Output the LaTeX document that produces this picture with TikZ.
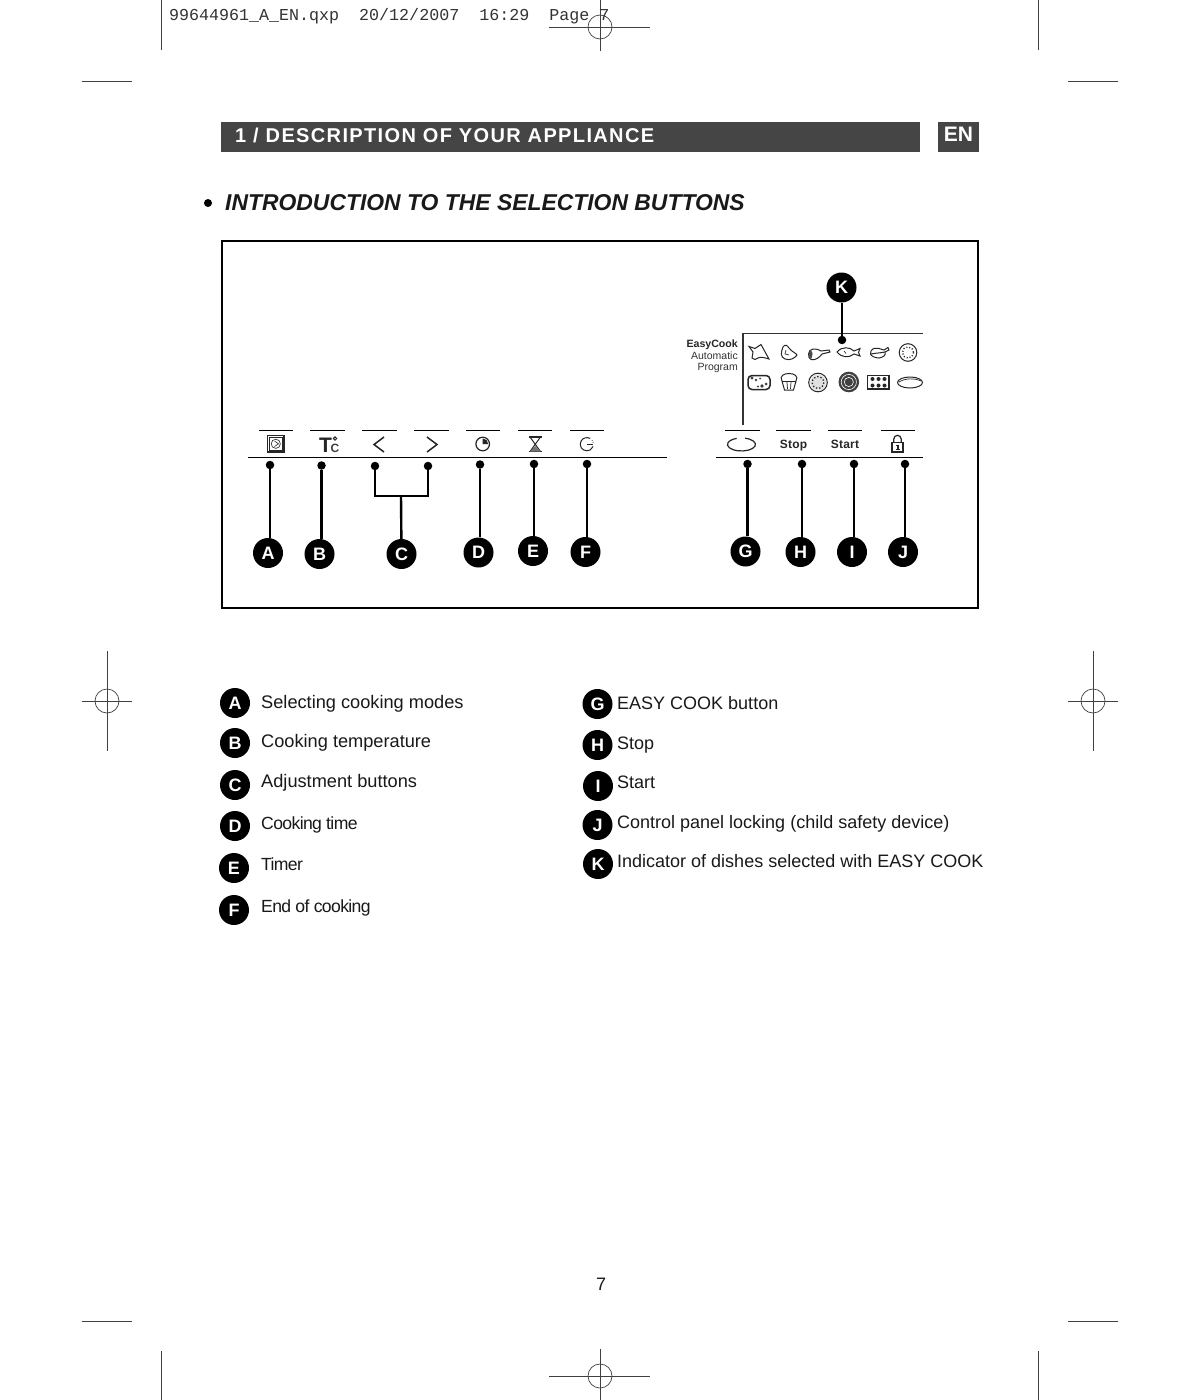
\documentclass[tikz,border=0pt]{standalone}
\usepackage{fontspec}
\setmainfont{Liberation Sans}
\newfontfamily\monof{Liberation Mono}
\newfontfamily\headf[LetterSpace=6.8]{Liberation Sans}
\newfontfamily\tightf[LetterSpace=-3.6]{Liberation Sans}
\newfontfamily\keyf[LetterSpace=2]{Liberation Sans}
\newcommand{\fs}[1]{\fontsize{#1}{#1}\selectfont}
\tikzset{
  crop/.style={draw=black!75,line width=0.7pt},
  callout/.style={circle,fill=black,text=white,minimum size=30pt,inner sep=0pt,font=\fs{18}\bfseries},
  legendmark/.style={circle,fill=black,text=white,minimum size=30pt,inner sep=0pt,font=\fs{18}\bfseries},
  legendtext/.style={anchor=base west,inner sep=0pt,font=\fs{18},text=black!90},
  lefttext/.style={anchor=base west,inner sep=0pt,font=\fs{18.2},text=black!90},
  tighttext/.style={anchor=base west,inner sep=0pt,font=\tightf\fs{17.6},text=black!90},
  pin/.style={circle,fill=black,minimum size=8.5pt,inner sep=0pt},
  lead/.style={draw=black,line width=2.4pt},
  panel/.style={draw=black,line width=1pt},
  icon/.style={draw=black!85,line width=1pt,fill=none},
  keytext/.style={anchor=base,inner sep=0pt,font=\keyf\fs{12}\bfseries,text=black!85},
  sidetext/.style={anchor=base east,inner sep=0pt,font=\fs{10.5},text=black!80}
}
\begin{document}
\begin{tikzpicture}[x=1pt,y=-1pt]
\useasboundingbox (0,0) rectangle (1200,1400);
\fill[white] (0,0) rectangle (1200,1400);

% trim marks
\draw[crop] (161,0)--(161,50) (1038,0)--(1038,50) (161,1351)--(161,1400) (1038,1351)--(1038,1400);
\draw[crop] (82,81)--(132,81) (1068,81)--(1118,81) (82,1321)--(132,1321) (1068,1321)--(1118,1321);
\foreach \cx/\cy in {107/701,1093/701}{
  \draw[crop] (\cx,\cy) circle (12);
  \draw[crop] (\cx-25,\cy)--(\cx+25,\cy) (\cx,\cy-50)--(\cx,\cy+50);
}
\foreach \cx/\cy in {600/27,600/1376}{
  \draw[crop] (\cx,\cy) circle (12);
  \draw[crop] (\cx-51,\cy)--(\cx+50,\cy) (\cx,\cy-27)--(\cx,\cy+24);
}
\node[anchor=base west,inner sep=0pt,font=\monof\fs{16.67},text=black!80] (slug) at (169,20) {99644961\_A\_EN.qxp\ \ 20/12/2007\ \ 16:29\ \ Page 7};

% header
\node[anchor=north west,fill=black!73,minimum width=699pt,minimum height=30pt,inner sep=0pt] (bar) at (221,122) {};
\node[anchor=base west,inner sep=0pt,text=white,font=\headf\fs{20}\bfseries] (bartext) at (235,142.5) {1 / DESCRIPTION OF YOUR APPLIANCE};
\node[anchor=north west,fill=black!73,minimum width=41pt,minimum height=30pt,inner sep=0pt] (enbox) at (938,122) {};
\node[inner sep=0pt,text=white,font=\fs{21}\bfseries] (entext) at (958.5,134) {EN};
\node[circle,fill=black,minimum size=8pt,inner sep=0pt] (bullet) at (208,203) {};
\node[anchor=base west,inner sep=0pt,font=\fs{22.9}\bfseries\itshape,text=black!90] (title) at (225,210) {INTRODUCTION TO THE SELECTION BUTTONS};

% frame
\draw[black,line width=2pt] (222,241) rectangle (978,608);

% panel lines
\draw[panel] (248,457.5)--(667,457.5) (716,457.5)--(923,457.5);
\foreach \a/\b in {259/293,310/345,362/397,414/449,466/500,518/552,570/604,725/760,776/811,828/862,881/915}
  \draw[panel] (\a,430.5)--(\b,430.5);
\draw[draw=black!80,line width=1.3pt] (743,425)--(743,333.5)--(923,333.5);

% panel pins
\node[pin] (pa) at (270,465) {};
\node[pin] (pb) at (321.5,465.5) {};
\node[pin] (pc1) at (375,466) {};
\node[pin] (pc2) at (428,466) {};
\node[pin] (pd) at (480,464.5) {};
\node[pin] (pe) at (534,464) {};
\node[pin] (pf) at (587,464) {};
\node[pin] (pg) at (747.5,464) {};
\node[pin] (ph) at (802,464) {};
\node[pin] (pi) at (854,464) {};
\node[pin] (pj) at (905,464) {};
\node[pin] (pk) at (842,340) {};

% callouts
\node[callout] (A) at (268,553) {A};
\node[callout] (B) at (319.5,554) {B};
\node[callout] (C) at (401.5,554) {C};
\node[callout] (D) at (478.5,552.5) {D};
\node[callout] (E) at (533,551) {E};
\node[callout] (F) at (585.5,552) {F};
\node[callout] (G) at (745.5,551.5) {G};
\node[callout] (H) at (800.5,552) {H};
\node[callout] (I) at (852,552) {I};
\node[callout] (J) at (903,552) {J};
\node[callout] (K) at (841.5,287.5) {K};

% leads
\draw[lead] (pa) -- (pa |- A.north);
\draw[lead] (pb) -- (pb |- B.north);
\draw[lead] (pd) -- (pd |- D.north);
\draw[lead] (pe) -- (pe |- E.north);
\draw[lead] (pf) -- (pf |- F.north);
\draw[lead] (pg) -- (pg |- G.north);
\draw[lead] (ph) -- (ph |- H.north);
\draw[lead] (pi) -- (pi |- I.north);
\draw[lead] (pj) -- (pj |- J.north);
\draw[lead] (pk) -- (pk |- K.south);
\coordinate (cj) at (401,496);
\draw[lead] (pc1) -- (pc1 |- cj) -- (pc2 |- cj) -- (pc2);
\draw[lead] (cj) -- (C);

% panel symbols, left group
\draw[icon,line width=1.1pt] (267.5,435.5) rectangle (284,452);
\draw[icon,line width=0.6pt] (269.5,437.5) rectangle (282,450);
\draw[icon,line width=0.6pt] (275.8,443.8) circle (4.6);
\draw[icon,line width=0.6pt] (274.5,441)--(278.5,443.8)--(274.5,446.5);
\node[anchor=base,inner sep=0pt,font=\fs{21}\bfseries,text=black!85] (tc) at (325.5,452.5) {T};
\node[anchor=base,inner sep=0pt,font=\fs{12}\bfseries,text=black!75] (tcc) at (335,452.5) {C};
\draw[icon] (335,438.5) circle (1.7);
\draw[draw=black!85,line width=1.5pt] (384,437)--(374,444.5)--(384,452);
\draw[draw=black!85,line width=1.5pt] (427,437)--(437,444.5)--(427,452);
\draw[draw=black!85,line width=1.2pt] (482.7,444) circle (6.8);
\fill[black!85] (482.7,444) -- (482.7,438.5) arc (-90:0:5.5) -- cycle;
\draw[draw=black!85,line width=1.3pt] (529,437)--(541.5,437) (529,451.5)--(541.5,451.5);
\draw[icon] (530,437)--(540.5,451.5) (540.5,437)--(530,451.5);
\fill[black!55] (535.2,446)--(540.5,451.5)--(530,451.5)--cycle;
\draw[icon] (590.2,438.5) arc (-60:-340:6.6);
\draw[icon] (587,444.5)--(592.5,444.5);
\fill[black!70] (592.2,440.6) circle (0.6) (593,442.4) circle (0.6);

% panel symbols, right group
\draw[icon,line width=1.2pt] (745.1,438.2) arc (-75:250:14 and 6.5);
\node[keytext] (stop) at (793.5,448.5) {Stop};
\node[keytext] (start) at (845,448.5) {Start};
\draw[icon,line width=1.2pt] (892,442.5) rectangle (903,452);
\draw[icon,line width=1.2pt] (893.8,442.5) -- (893.8,439) arc (180:360:3.7) -- (901.2,442.5);
\fill[black!85] (896.8,444.5) rectangle (898.6,450);
\fill[black!85] (895.8,449.2) rectangle (899.6,450);
\fill[black!85] (895.8,444.5) rectangle (897,445.3);

% EasyCook block
\node[anchor=base east,inner sep=0pt,font=\fs{10.6}\bfseries,text=black!85] (ec1) at (738,347.5) {EasyCook};
\node[sidetext] (ec2) at (738,359) {Automatic};
\node[sidetext] (ec3) at (738,370.5) {Program};

% dish symbols, row 1
\draw[icon] (749,346.5) -- (755,348.5) -- (761,344.5) -- (764,350) -- (769,359) .. controls (763,357) and (760,357) .. (758,358) .. controls (756,360) and (754,360) .. (752,358) -- (753,352) -- cycle;
\draw[icon] (783,347) .. controls (785,344) and (787,345) .. (789,348) .. controls (792,352) and (796,353) .. (797,355) .. controls (795,358) and (790,361) .. (785,359) .. controls (780,357) and (781,352) .. (783,347) -- cycle;
\draw[icon,line width=0.7pt] (786,350) -- (785,354) -- (789,355);
\draw[icon] (813,349) .. controls (808,349) and (807,358) .. (811,359.5) .. controls (815,361) and (820,357) .. (822,354) -- (830,352) -- (829,350) -- (821,351) .. controls (818,349) and (815,349) .. (813,349) -- cycle;
\fill[black!70] (811,350.5) .. controls (808,352) and (808,358) .. (811.5,358.5) .. controls (813,356) and (813,352) .. (811,350.5) -- cycle;
\draw[icon] (837,352) .. controls (842,346) and (850,347) .. (854,351) -- (860,348.5) -- (858.5,352.5) -- (860,356) -- (854,354) .. controls (849,358) and (842,358) .. (837,352) -- cycle;
\draw[icon,line width=0.6pt] (844,351) -- (846,353.5);
\draw[icon] (871,351) .. controls (875,345) and (882,350) .. (884,350) -- (888,347.5) -- (889,350) -- (885,352) .. controls (886,355) and (884,357) .. (879,358) .. controls (875,358) and (871,356) .. (870.5,354) -- cycle;
\draw[icon] (871,354) .. controls (875,353) and (881,353) .. (885,352);
\draw[icon] (908,352.5) circle (8.8);
\draw[icon,dotted,line width=1.4pt] (908,352.5) circle (5.6);

% dish symbols, row 2
\draw[icon,line width=1.5pt,rounded corners=4pt] (748,375.5) rectangle (770,389.5);
\fill[black!75] (752,378) circle (1.6) (756,380) circle (1.3) (760,378.5) circle (1) (762,386) circle (1.8) (766,384) circle (1.5) (758,386.5) circle (1.2);
\draw[icon] (782,381) .. controls (779,376) and (784,373.5) .. (789,373.5) .. controls (794,373.5) and (799,376) .. (796,381) -- (793.5,390) -- (784.5,390) -- cycle;
\draw[icon] (782,381) -- (796,381);
\draw[icon,line width=0.7pt] (787,382) -- (787.5,389) (791,382) -- (790.5,389);
\draw[icon] (818,382.5) circle (9.3);
\fill[black!12] (818,382.5) circle (8);
\draw[black!85,dotted,line width=1.3pt] (818,382.5) circle (5.8);
\fill[black!75] (848.8,382) circle (10.3);
\draw[white,line width=0.6pt] (848.8,382) circle (7.6) (848.8,382) circle (4.6);
\draw[icon,line width=1.1pt] (867.5,375.5) rectangle (889,389);
\foreach \dx in {872.5,878.5,884.5}\foreach \dy in {379,385.5}\fill[black!85] (\dx,\dy) circle (2);
\draw[icon] (910,382.5) ellipse (12.5 and 5.5);
\draw[icon,line width=0.7pt] (899,382) .. controls (905,378) and (915,378) .. (921,381);

% legend, left
\node[legendmark] (LA) at (235,703) {A};
\node[legendmark] (LB) at (235,743) {B};
\node[legendmark] (LC) at (235,785) {C};
\node[legendmark] (LD) at (235,826) {D};
\node[legendmark] (LE) at (234,868) {E};
\node[legendmark] (LF) at (234,910) {F};
\node[lefttext] (TA) at (261,708) {Selecting cooking modes};
\node[lefttext] (TB) at (261,747) {Cooking temperature};
\node[lefttext] (TC) at (261,787) {Adjustment buttons};
\node[tighttext] (TD) at (261,829) {Cooking time};
\node[tighttext] (TE) at (261,870) {Timer};
\node[tighttext] (TF) at (261,912) {End of cooking};

% legend, right
\node[legendmark] (LG) at (597.5,704) {G};
\node[legendmark] (LH) at (597.5,745) {H};
\node[legendmark] (LI) at (598,786) {I};
\node[legendmark] (LJ) at (597.5,825) {J};
\node[legendmark] (LK) at (598,864) {K};
\node[legendtext] (TG) at (617,709) {EASY COOK button};
\node[legendtext] (TH) at (617,749) {Stop};
\node[legendtext] (TI) at (617,788) {Start};
\node[legendtext] (TJ) at (617,828) {Control panel locking (child safety device)};
\node[legendtext] (TK) at (617,867) {Indicator of dishes selected with EASY COOK};

\node[inner sep=0pt,font=\fs{18},text=black!90] (pageno) at (601,1284) {7};
\end{tikzpicture}
\end{document}
